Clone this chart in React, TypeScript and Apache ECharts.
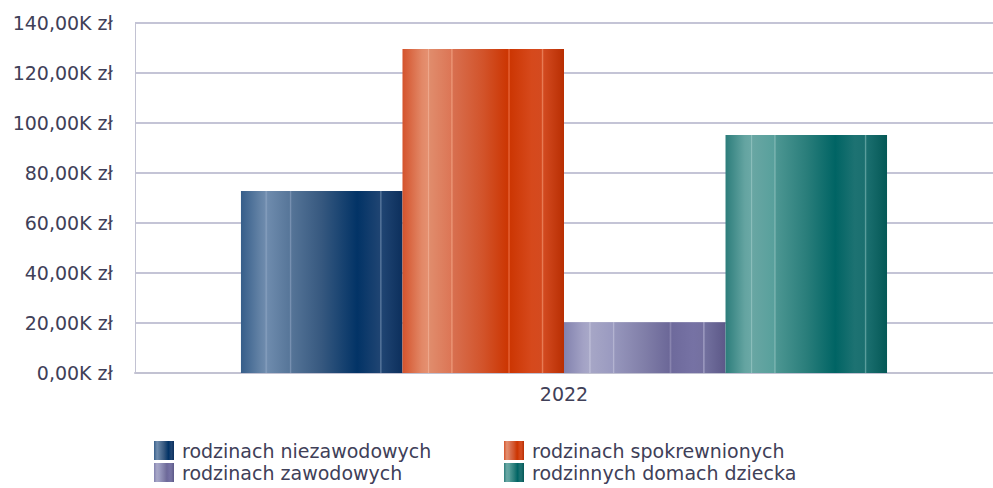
import React, { useEffect, useRef } from "react";
import * as echarts from "echarts";

const categories = ["2022"];
const seriesNames = [
  "rodzinach niezawodowych",
  "rodzinach spokrewnionych",
  "rodzinach zawodowych",
  "rodzinnych domach dziecka",
];
const niezawodowe = [72800];
const spokrewnione = [129600];
const zawodowe = [20300];
const domyDziecka = [95200];
const seriesValues = [niezawodowe, spokrewnione, zawodowe, domyDziecka];

const FONT = "DejaVu Sans";
const TEXT = "#404058";

type Stop = [number, string];
const palettes: Stop[][] = [
  [
    [0, "#365e8a"], [0.12, "#6483a6"], [0.15, "#6e8bad"], [0.155, "#8aa2c0"], [0.165, "#6e8bad"],
    [0.3, "#577699"], [0.305, "#7e96b6"], [0.315, "#557497"],
    [0.5, "#36587f"], [0.72, "#023366"], [0.86, "#1f4472"], [0.865, "#5c7ba0"], [0.875, "#1f4472"], [1, "#0c2f5c"],
  ],
  [
    [0, "#d4532c"], [0.12, "#e28867"], [0.155, "#e59070"], [0.16, "#f0ab90"], [0.168, "#e08c6c"],
    [0.3, "#dc7656"], [0.305, "#ee9a7a"], [0.315, "#d86f4f"],
    [0.5, "#d2532a"], [0.65, "#cc3603"], [0.66, "#e8663a"], [0.668, "#cc3603"],
    [0.8, "#d6491c"], [0.86, "#d44a1f"], [0.865, "#ec8660"], [0.875, "#d24a20"], [1, "#b82e02"],
  ],
  [
    [0, "#8282ae"], [0.12, "#a3a2c5"], [0.155, "#a8a8c8"], [0.16, "#c4c4dc"], [0.168, "#a6a6c6"],
    [0.3, "#9a9ac0"], [0.305, "#b8b8d4"], [0.315, "#9696bc"],
    [0.5, "#807ea8"], [0.65, "#6c6898"], [0.66, "#8a86b0"], [0.668, "#6e6a9c"],
    [0.8, "#7672a4"], [0.86, "#7470a0"], [0.865, "#a4a2c6"], [0.875, "#72709e"], [1, "#5c5888"],
  ],
  [
    [0, "#2c7d7b"], [0.12, "#64a4a1"], [0.155, "#6aa8a5"], [0.16, "#8ec0bd"], [0.168, "#68a6a3"],
    [0.3, "#58a09c"], [0.305, "#82b8b5"], [0.315, "#4c9692"],
    [0.5, "#2a7e7b"], [0.68, "#006464"], [0.8, "#1d7272"], [0.86, "#1b7070"], [0.865, "#66a6a4"], [0.875, "#1b6f6f"], [1, "#045856"],
  ],
];

function grad(stops: Stop[]) {
  return new echarts.graphic.LinearGradient(
    0, 0, 1, 0,
    stops.map(([offset, color]) => ({ offset, color }))
  );
}

const fmt = (v: number) => (v / 1000).toFixed(2).replace(".", ",") + "K zł";

const legendBase = {
  orient: "vertical",
  top: 441,
  padding: 0,
  itemWidth: 20,
  itemHeight: 19,
  itemGap: 3,
  icon: "rect",
  textStyle: { fontFamily: FONT, fontSize: 19, color: TEXT, padding: [0, 0, 0, 3] },
};

export default function App() {
  const ref = useRef<HTMLDivElement>(null);
  useEffect(() => {
    if (!ref.current) return;
    const chart = echarts.init(ref.current, undefined, { renderer: "svg" });
    chart.setOption({
      animation: false,
      backgroundColor: "#ffffff",
      grid: { left: 135, right: 0, top: 23, bottom: 115, containLabel: false },
      legend: [
        { ...legendBase, left: 154, data: [seriesNames[0], seriesNames[2]] },
        { ...legendBase, left: 504, data: [seriesNames[1], seriesNames[3]] },
      ],
      xAxis: {
        type: "category",
        data: categories,
        axisLine: { show: true, lineStyle: { color: "#c2c2d2", width: 2 } },
        axisTick: { show: false },
        axisLabel: { fontFamily: FONT, fontSize: 19, color: TEXT, margin: 11 },
      },
      yAxis: {
        type: "value",
        min: 0,
        max: 140000,
        interval: 20000,
        axisLine: { show: true, lineStyle: { color: "#c2c2d2", width: 1 } },
        axisTick: { show: false },
        splitLine: { lineStyle: { color: "#c4c4d6", width: 2 } },
        axisLabel: {
          fontFamily: FONT,
          fontSize: 19,
          color: TEXT,
          margin: 22,
          formatter: fmt,
        },
      },
      series: seriesNames.map((name, i) => ({
        name,
        type: "bar",
        data: seriesValues[i],
        barGap: "0%",
        barCategoryGap: "24.7%",
        itemStyle: { color: grad(palettes[i]) },
      })),
    });
    return () => chart.dispose();
  }, []);
  return <div ref={ref} style={{ width: 993, height: 488, position: "absolute", left: 0, top: 0 }} />;
}
